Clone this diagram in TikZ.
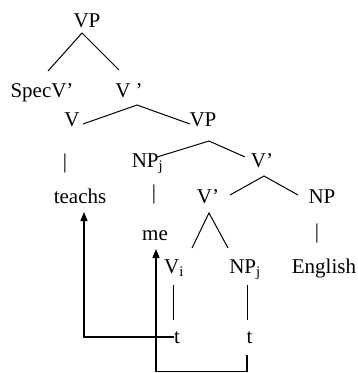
\documentclass[tikz,border=0pt]{standalone}
\usepackage{fontspec}
\setmainfont{Liberation Serif}
\usetikzlibrary{arrows.meta}
\begin{document}
\begin{tikzpicture}[x=1pt,y=-1pt,
  lbl/.style={anchor=base,inner sep=0pt,font=\fontsize{21}{24}\selectfont},
  edge/.style={line width=1pt},
  mv/.style={line width=1.3pt},
  tip/.style={-{Triangle[length=9pt,width=7pt]}}]
\useasboundingbox (0,0) rectangle (358,373);
% labels
\node[lbl] (vp1) at (87,27) {VP};
\node[lbl] (spec) at (42,97) {SpecV’};
\node[lbl] (vbar1) at (129,97) {V ’};
\node[lbl] (v) at (72,126) {V};
\node[lbl] (vp2) at (203,126) {VP};
\node[lbl] (bar1) at (65,168) {|};
\node[lbl] (npj1) at (147.5,167) {NP\textsubscript{j}};
\node[lbl] (vbar2) at (262,167) {V’};
\node[lbl] (teachs) at (80,203) {teachs};
\node[lbl] (bar2) at (154,199) {|};
\node[lbl] (vbar3) at (208,203) {V’};
\node[lbl] (np) at (322,203) {NP};
\node[lbl] (me) at (155,240) {me};
\node[lbl] (bar3) at (317,238) {|};
\node[lbl] (vi) at (174,273) {V\textsubscript{i}};
\node[lbl] (npj2) at (245,273) {NP\textsubscript{j}};
\node[lbl] (english) at (324,273) {English};
\node[lbl] (t1) at (177,343) {t};
\node[lbl] (t2) at (249.5,343) {t};
% branch points
\coordinate (a1) at (82,33);
\coordinate (a1l) at (48,71);
\coordinate (a1r) at (119,70);
\coordinate (a2) at (137,105);
\coordinate (a2l) at (83,124);
\coordinate (a2r) at (190,124);
\coordinate (a3) at (209,141);
\coordinate (a3l) at (157,157);
\coordinate (a3r) at (245,157);
\coordinate (a4) at (264,176);
\coordinate (a4l) at (230,195);
\coordinate (a4r) at (298,195);
\coordinate (a5) at (209,213);
\coordinate (a5l) at (192,248);
\coordinate (a5r) at (228,248);
\draw[edge] (a1l) -- (a1) -- (a1r);
\draw[edge] (a2l) -- (a2) -- (a2r);
\draw[edge] (a3l) -- (a3) -- (a3r);
\draw[edge] (a4l) -- (a4) -- (a4r);
\draw[edge] (a5l) -- (a5) -- (a5r);
% traces
\coordinate (vi1) at (173,285);
\coordinate (vi2) at (173,320);
\coordinate (np1) at (247,285);
\coordinate (np2) at (247,320);
\draw[edge] (vi1) -- (vi2);
\draw[edge] (np1) -- (np2);
% movement arrows
\coordinate (m1s) at (173.5,337);
\coordinate (m1c) at (84,337);
\coordinate (m1e) at (84,212);
\draw[mv,tip] (m1s) -- (m1c) -- (m1e);
\coordinate (m2s) at (247,355);
\coordinate (m2c) at (247,371.5);
\coordinate (m2d) at (156,371.5);
\coordinate (m2e) at (156,249);
\draw[mv,tip] (m2s) -- (m2c) -- (m2d) -- (m2e);
\end{tikzpicture}
\end{document}
